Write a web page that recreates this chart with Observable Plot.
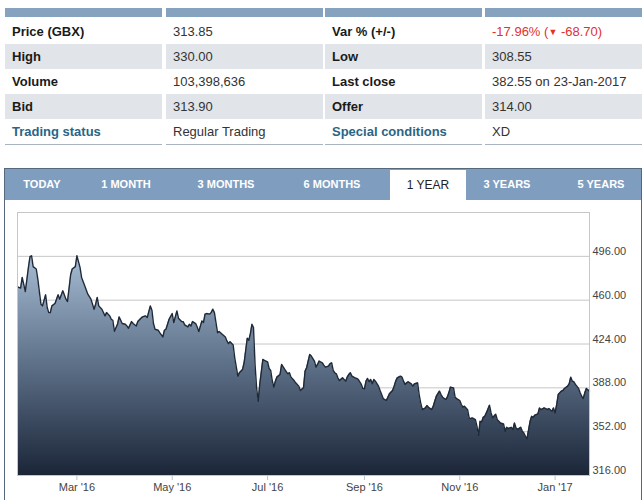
<!DOCTYPE html>
<html>
<head>
<meta charset="utf-8">
<script src="https://cdn.jsdelivr.net/npm/d3@7"></script>
<script src="https://cdn.jsdelivr.net/npm/@observablehq/plot@0.6"></script>
<style>
  html, body { margin: 0; padding: 0; background: #fff; }
  body { width: 643px; height: 500px; position: relative; overflow: hidden;
         font-family: Arial, "Liberation Sans", sans-serif; color: #333; }
  .col { position: absolute; top: 8px; width: 157px; }
  .hdr { height: 9px; background: #87a2be; }
  .cell { height: 25px; line-height: 25px; font-size: 13px; padding-left: 7px; white-space: nowrap; }
  .cell.alt { background: #e1e5e9; }
  .first { margin-top: 2px; }
  .bottom { border-top: 1px solid #a8b4c0; }
  .lbl { font-weight: bold; color: #1a1a1a; }
  .lbl.blue { color: #2a6586; }
  .red { color: #e3302b; }
  .red .arrow { font-size: 9px; vertical-align: 1px; }
  #panel { position: absolute; left: 4px; top: 168px; width: 636px; height: 340px;
           border: 1px solid #56697c; border-bottom: none; }
  #tabbar { position: absolute; left: 0; top: 0; width: 636px; height: 31px; background: #7f9ebf; }
  .tab { position: absolute; top: 0; height: 31px; line-height: 31px; text-align: center;
         font-size: 11px; font-weight: bold; color: #fff; }
  .tab.sel { background: #fff; color: #222; font-weight: normal; font-size: 12px; top: 1px; height: 30px; line-height: 30px; }
  #chart { position: absolute; left: 0px; top: 31px; }
</style>
</head>
<body>
<div id="table"></div>
<div id="panel">
  <div id="tabbar"></div>
  <div id="chart"></div>
</div>
<script>
// ---- table content ----
const labelsA = ["Price (GBX)", "High", "Volume", "Bid", "Trading status"];
const valuesA = ["313.85", "330.00", "103,398,636", "313.90", "Regular Trading"];
const labelsB = ["Var % (+/-)", "Low", "Last close", "Offer", "Special conditions"];
const valuesB = ["-17.96% (\u25BC -68.70)", "308.55", "382.55 on 23-Jan-2017", "314.00", "XD"];

// ---- tabs ----
const tabs = ["TODAY", "1 MONTH", "3 MONTHS", "6 MONTHS", "1 YEAR", "3 YEARS", "5 YEARS"];
const selectedTab = "1 YEAR";

// ---- price series (GBX) ----
const dates = [
"2016-01-23","2016-01-25","2016-01-26","2016-01-28","2016-01-30","2016-01-31","2016-02-01","2016-02-02","2016-02-04","2016-02-05",
"2016-02-07","2016-02-08","2016-02-10","2016-02-11","2016-02-12","2016-02-13","2016-02-14","2016-02-16","2016-02-18","2016-02-19",
"2016-02-21","2016-02-23","2016-02-24","2016-02-26","2016-02-27","2016-02-29","2016-03-01","2016-03-03","2016-03-04","2016-03-06",
"2016-03-08","2016-03-10","2016-03-12","2016-03-13","2016-03-14","2016-03-15","2016-03-17","2016-03-19","2016-03-20","2016-03-22",
"2016-03-23","2016-03-24","2016-03-25","2016-03-27","2016-03-28","2016-03-30","2016-04-01","2016-04-02","2016-04-03","2016-04-05",
"2016-04-06","2016-04-08","2016-04-09","2016-04-11","2016-04-12","2016-04-14","2016-04-15","2016-04-17","2016-04-18","2016-04-19",
"2016-04-20","2016-04-22","2016-04-23","2016-04-25","2016-04-26","2016-04-27","2016-04-29","2016-05-01","2016-05-02","2016-05-04",
"2016-05-05","2016-05-07","2016-05-08","2016-05-09","2016-05-11","2016-05-12","2016-05-13","2016-05-14","2016-05-16","2016-05-17",
"2016-05-18","2016-05-20","2016-05-21","2016-05-22","2016-05-23","2016-05-25","2016-05-26","2016-05-27","2016-05-28","2016-05-30",
"2016-05-31","2016-06-02","2016-06-04","2016-06-05","2016-06-06","2016-06-07","2016-06-09","2016-06-10","2016-06-12","2016-06-13",
"2016-06-15","2016-06-16","2016-06-18","2016-06-19","2016-06-20","2016-06-21","2016-06-22","2016-06-23","2016-06-24","2016-06-25",
"2016-06-26","2016-06-28","2016-06-29","2016-07-01","2016-07-02","2016-07-03","2016-07-04","2016-07-05","2016-07-06","2016-07-07",
"2016-07-09","2016-07-10","2016-07-12","2016-07-13","2016-07-14","2016-07-15","2016-07-16","2016-07-18","2016-07-19","2016-07-21",
"2016-07-22","2016-07-24","2016-07-25","2016-07-26","2016-07-28","2016-07-29","2016-07-31","2016-08-01","2016-08-02","2016-08-03",
"2016-08-05","2016-08-06","2016-08-07","2016-08-09","2016-08-10","2016-08-11","2016-08-12","2016-08-13","2016-08-14","2016-08-15",
"2016-08-16","2016-08-18","2016-08-19","2016-08-20","2016-08-21","2016-08-22","2016-08-23","2016-08-24","2016-08-26","2016-08-27",
"2016-08-28","2016-08-30","2016-08-31","2016-09-01","2016-09-02","2016-09-03","2016-09-04","2016-09-05","2016-09-06","2016-09-07",
"2016-09-08","2016-09-10","2016-09-11","2016-09-12","2016-09-13","2016-09-15","2016-09-16","2016-09-17","2016-09-19","2016-09-20",
"2016-09-21","2016-09-22","2016-09-24","2016-09-25","2016-09-26","2016-09-27","2016-09-28","2016-09-29","2016-10-01","2016-10-02",
"2016-10-03","2016-10-05","2016-10-06","2016-10-07","2016-10-08","2016-10-10","2016-10-11","2016-10-12","2016-10-14","2016-10-15",
"2016-10-16","2016-10-17","2016-10-19","2016-10-20","2016-10-21","2016-10-23","2016-10-24","2016-10-25","2016-10-26","2016-10-28",
"2016-10-29","2016-10-30","2016-11-01","2016-11-02","2016-11-03","2016-11-04","2016-11-06","2016-11-07","2016-11-08","2016-11-09",
"2016-11-11","2016-11-12","2016-11-13","2016-11-14","2016-11-15","2016-11-16","2016-11-17","2016-11-18","2016-11-20","2016-11-21",
"2016-11-22","2016-11-24","2016-11-25","2016-11-26","2016-11-27","2016-11-29","2016-11-30","2016-12-01","2016-12-02","2016-12-04",
"2016-12-05","2016-12-06","2016-12-07","2016-12-08","2016-12-10","2016-12-11","2016-12-12","2016-12-13","2016-12-14","2016-12-16",
"2016-12-17","2016-12-18","2016-12-19","2016-12-21","2016-12-22","2016-12-23","2016-12-25","2016-12-26","2016-12-27","2016-12-28",
"2016-12-30","2016-12-31","2017-01-01","2017-01-02","2017-01-03","2017-01-05","2017-01-06","2017-01-07","2017-01-09","2017-01-10",
"2017-01-11","2017-01-12","2017-01-13","2017-01-14","2017-01-16","2017-01-17","2017-01-18","2017-01-19","2017-01-20","2017-01-21",
"2017-01-23"
];
const prices = [
471.0,469.9,478.7,467.1,486.9,495.7,496.5,487.5,485.6,477.3,
456.7,455.3,464.4,454.0,449.8,449.8,455.3,457.3,464.4,460.8,
467.7,460.8,458.9,480.9,485.6,487.5,496.5,486.9,478.7,471.8,
464.9,460.8,452.6,456.7,462.2,455.3,452.6,447.1,449.8,447.1,
444.3,443.5,434.5,440.2,446.3,440.8,440.2,438.8,436.9,442.4,
440.8,438.8,442.4,445.2,446.3,447.1,445.7,455.3,451.8,440.8,
436.1,435.3,433.3,429.8,435.3,436.1,444.3,449.0,441.6,451.2,
445.2,442.4,442.4,439.7,438.0,440.2,438.8,442.4,440.8,438.0,
434.2,443.0,441.6,448.5,449.0,448.5,450.0,452.6,449.8,433.3,
434.2,432.0,429.8,426.5,424.3,425.9,423.2,412.7,397.6,400.4,
403.1,408.6,428.7,427.0,432.5,440.2,437.5,407.2,388.0,377.0,
390.8,411.4,410.5,409.4,403.9,402.3,394.0,388.6,393.5,396.8,
399.0,407.2,403.1,401.2,399.5,400.4,396.8,394.0,392.1,389.4,
385.8,388.0,401.7,404.5,415.5,414.1,410.0,405.0,407.2,410.0,
408.6,406.7,405.0,405.9,407.8,408.6,402.3,400.4,399.5,396.2,
394.0,396.2,394.9,393.5,396.8,399.0,400.4,397.6,396.2,395.7,
394.9,390.8,387.5,387.2,393.5,395.7,393.0,394.9,391.3,394.9,
393.5,389.4,385.8,382.5,379.2,377.6,380.3,383.1,385.8,389.4,
393.5,396.2,397.6,396.8,393.5,390.8,392.1,393.0,391.3,389.4,
391.3,392.1,382.5,375.6,370.1,371.5,373.4,372.1,370.1,372.9,
377.0,381.1,385.3,382.5,380.3,378.4,380.3,383.9,388.6,388.0,
380.3,379.2,377.6,374.3,372.1,372.9,370.1,363.3,362.7,363.3,
361.9,356.4,349.0,360.5,360.0,363.8,364.6,367.4,373.7,367.4,
363.5,366.3,361.9,360.5,359.1,358.3,352.3,355.6,354.5,355.6,
353.7,359.1,355.0,353.7,355.6,352.3,350.9,348.2,346.2,360.5,
364.6,363.8,365.5,366.6,371.5,370.1,371.5,371.0,370.1,371.0,
368.8,371.5,367.4,374.3,382.5,385.3,385.8,387.5,389.4,391.3,
396.8,393.5,393.0,390.8,387.5,383.9,381.1,379.2,383.9,387.5,
385.3
];

const yTicks = [316, 352, 388, 424, 460, 496];
const yTop = 532;
const xTicks = ["2016-03-01", "2016-05-01", "2016-07-01", "2016-09-01", "2016-11-01", "2017-01-01"];
const xStart = "2016-01-23", xEnd = "2017-01-23";

// ---- build table ----
const colLefts = [5, 166, 325, 485];
const table = document.getElementById("table");
function makeCol(left, texts, cls, isLabel) {
  const col = document.createElement("div");
  col.className = "col";
  col.style.left = left + "px";
  let html = '<div class="hdr"></div>';
  texts.forEach((t, i) => {
    let c = "cell" + (i === 0 ? " first" : "") + (i % 2 === 1 ? " alt" : "");
    let inner = t;
    if (isLabel) inner = `<span class="lbl${i === 4 ? " blue" : ""}">${t}</span>`;
    if (cls && i === 0) inner = `<span class="red">${t.replace("\u25BC", '<span class="arrow">\u25BC</span>')}</span>`;
    html += `<div class="${c}">${inner}</div>`;
  });
  html += '<div class="bottom"></div>';
  col.innerHTML = html;
  table.appendChild(col);
}
makeCol(colLefts[0], labelsA, null, true);
makeCol(colLefts[1], valuesA, null, false);
makeCol(colLefts[2], labelsB, null, true);
makeCol(colLefts[3], valuesB, "red", false);

// ---- build tabs ----
const tabCenters = [37, 121, 221, 327, 423, 502, 596];
const tabbar = document.getElementById("tabbar");
tabs.forEach((t, i) => {
  const d = document.createElement("div");
  const sel = t === selectedTab;
  d.className = "tab" + (sel ? " sel" : "");
  const w = sel ? 76 : 90;
  d.style.left = (tabCenters[i] - w / 2) + "px";
  d.style.width = w + "px";
  d.textContent = t;
  tabbar.appendChild(d);
});

// ---- chart ----
const data = dates.map((d, i) => ({date: new Date(d), price: prices[i]}));

const chart = Plot.plot({
  width: 636,
  height: 300,
  marginLeft: 12,
  marginRight: 52,
  marginTop: 12,
  marginBottom: 25,
  style: {fontFamily: "Arial, 'Liberation Sans', sans-serif", fontSize: "11px", color: "#444", background: "#fff", overflow: "visible"},
  x: {type: "utc", domain: [new Date(xStart), new Date(xEnd)], label: null},
  y: {domain: [316, yTop], label: null},
  marks: [
    Plot.ruleY(yTicks.slice(1), {stroke: "#c6c6c6", strokeWidth: 1}),
    Plot.areaY(data, {x: "date", y1: 316, y2: "price", fill: "url(#pxGrad)"}),
    Plot.lineY(data, {x: "date", y: "price", stroke: "#1f2a39", strokeWidth: 1.4}),
    Plot.frame({stroke: "#c6c6c6"}),
    Plot.axisY(yTicks, {anchor: "right", label: null, tickSize: 0, tickPadding: 3, dy: -5, tickFormat: d => d.toFixed(2)}),
    Plot.axisX(xTicks.map(d => new Date(d)), {label: null, tickSize: 5, tickPadding: 3, stroke: "#b8c4d0", tickFormat: d3.utcFormat("%b '%y")})
  ]
});
chart.insertAdjacentHTML("afterbegin",
  '<defs><linearGradient id="pxGrad" x1="0" y1="0" x2="0" y2="1">' +
  '<stop offset="0" stop-color="#a6bcd3"/>' +
  '<stop offset="0.45" stop-color="#63778f"/>' +
  '<stop offset="1" stop-color="#1b2538"/>' +
  '</linearGradient></defs>');
document.getElementById("chart").appendChild(chart);
</script>
</body>
</html>
